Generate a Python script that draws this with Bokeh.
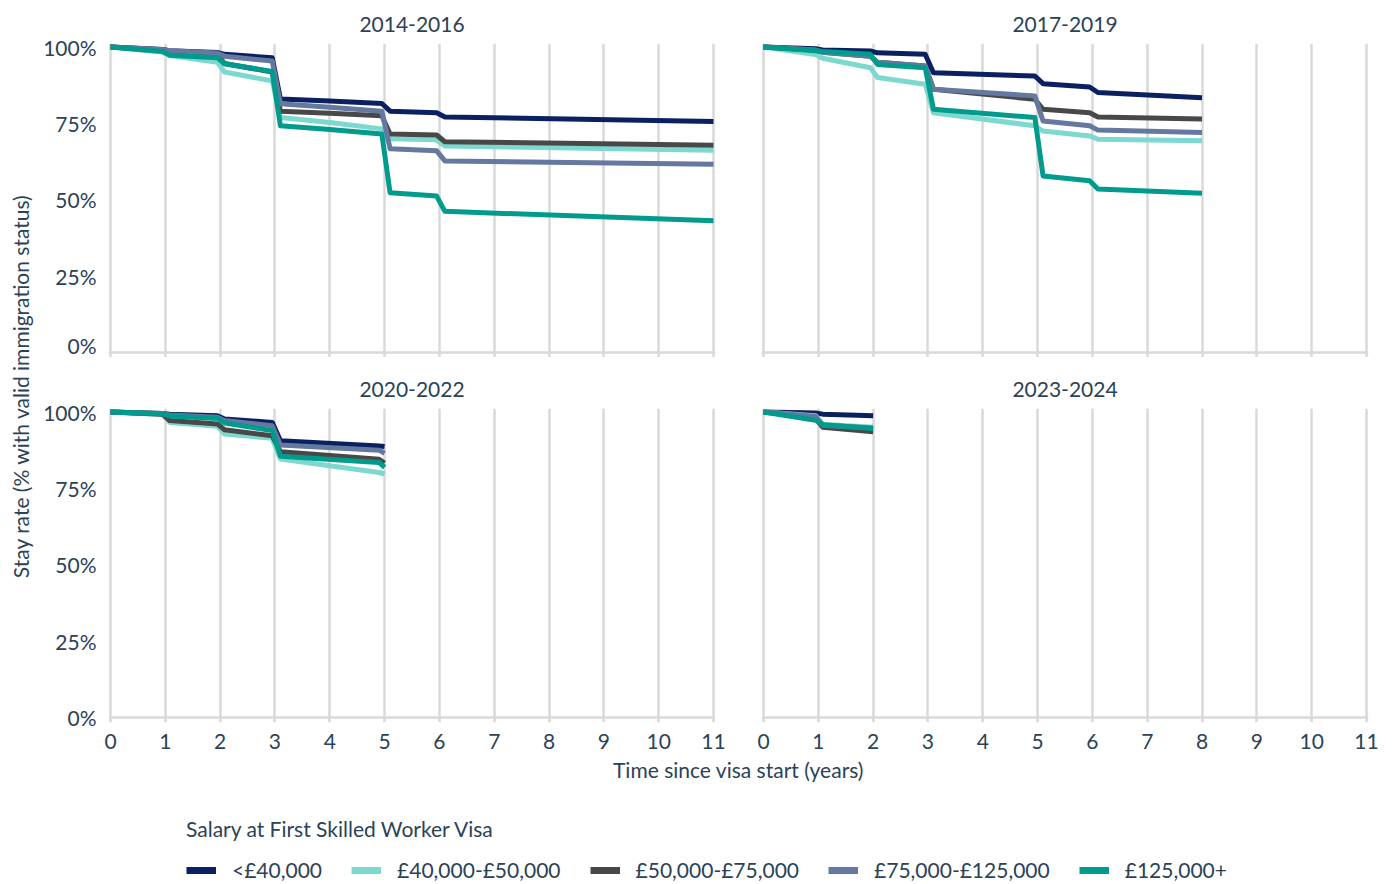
import math
from bokeh.plotting import figure
from bokeh.models import Range1d, FixedTicker, PrintfTickFormatter, Legend, LegendItem, Label
from bokeh.layouts import row, column
from bokeh.embed import file_html
from bokeh.resources import INLINE

# ---------------- data ----------------
series_names = ["<£40,000", "£40,000-£50,000", "£50,000-£75,000", "£75,000-£125,000", "£125,000+"]
series_colors = ["#0A2060", "#7DD8CF", "#484848", "#65789F", "#009B8C"]
panel_titles = ["2014-2016", "2017-2019", "2020-2022", "2023-2024"]
x_ticks = [0, 1, 2, 3, 4, 5, 6, 7, 8, 9, 10, 11]
y_ticks = [0, 25, 50, 75, 100]
legend_title = "Salary at First Skilled Worker Visa"
x_title = "Time since visa start (years)"
y_title = "Stay rate (% with valid immigration status)"

# time since visa start (years) for each cohort
t_2014_2016 = [0, 0.95, 1.08, 1.95, 2.08, 2.95, 3.1, 4.0, 4.95, 5.1, 5.95, 6.1, 11]
t_2017_2019 = [0, 0.95, 1.08, 1.95, 2.08, 2.95, 3.1, 4.95, 5.1, 5.95, 6.1, 8]
t_2020_2022 = [0, 0.95, 1.08, 1.95, 2.08, 2.95, 3.1, 4.9, 5]
t_2023_2024 = [0, 0.95, 1.08, 2]

# stay rate (%) per salary band, ordered as series_names
stay_2014_2016 = [
    [100, 99.2, 98.8, 98.2, 97.6, 96.5, 83.0, 82.3, 81.5, 79.0, 78.5, 77.1, 75.6],
    [100, 98.4, 97.2, 95.0, 91.8, 88.9, 76.9, 75.3, 73.2, 70.0, 69.6, 67.6, 66.2],
    [100, 99.0, 98.5, 97.5, 94.6, 91.8, 79.0, 78.3, 77.5, 71.5, 71.2, 69.0, 67.8],
    [100, 99.2, 98.8, 98.0, 97.0, 95.4, 81.4, 80.3, 79.0, 66.7, 66.0, 62.7, 61.6],
    [100, 98.5, 97.3, 96.5, 94.5, 92.0, 74.2, 73.0, 71.5, 52.3, 51.2, 46.2, 43.1],
]
stay_2017_2019 = [
    [100, 99.4, 99.0, 98.7, 98.1, 97.6, 91.6, 90.5, 88.0, 86.9, 85.1, 83.4],
    [100, 97.5, 96.3, 93.2, 90.0, 87.8, 78.5, 74.2, 72.5, 70.9, 69.8, 69.3],
    [100, 99.0, 98.3, 97.0, 95.0, 93.8, 86.2, 82.9, 79.6, 78.5, 77.1, 76.4],
    [100, 99.0, 98.3, 97.0, 95.0, 93.8, 86.2, 84.0, 75.8, 74.2, 72.8, 72.0],
    [100, 98.8, 98.5, 97.6, 94.3, 93.2, 79.6, 76.9, 57.8, 56.2, 53.5, 52.1],
]
stay_2020_2022 = [
    [100, 99.5, 99.3, 98.8, 97.7, 96.6, 90.6, 88.9, 88.7],
    [100, 99.2, 96.6, 95.3, 92.8, 91.4, 84.6, 80.2, 79.7],
    [100, 99.3, 97.2, 96.1, 94.2, 92.2, 87.0, 84.5, 83.3],
    [100, 99.5, 99.0, 98.3, 97.2, 95.5, 89.2, 87.5, 86.5],
    [100, 99.4, 98.7, 97.9, 96.4, 93.9, 85.5, 83.5, 81.9],
]
stay_2023_2024 = [
    [100, 99.7, 99.3, 98.8],
    [100, 98.8, 96.0, 95.0],
    [100, 98.0, 95.0, 93.5],
    [100, 98.5, 95.7, 94.8],
    [100, 97.3, 95.8, 94.6],
]

# ---------------- style ----------------
FONT = "Lato"
TXT = "#2B4257"
GRID = "#D9D9D9"
FS = "21px"
FRAME_W = 607
FRAME_H = 314
PX_PER_YEAR = 603 / 11.0
PX_PER_PCT = 305.5 / 100.0
x_pad = 2 / PX_PER_YEAR
y_lo = -5 / PX_PER_PCT
y_hi = 100 + (FRAME_H - 5 - 305.5) / PX_PER_PCT


def make_panel(title, times, values, left, right, top, bottom, show_y, show_x):
    p = figure(
        width=left + FRAME_W + right, height=top + FRAME_H + bottom,
        x_range=Range1d(-x_pad, 11 + x_pad), y_range=Range1d(y_lo, y_hi),
        x_axis_location="below" if show_x else None,
        y_axis_location="left" if show_y else None,
        output_backend="svg", toolbar_location=None,
        min_border_left=left, min_border_right=right,
        min_border_top=top, min_border_bottom=bottom,
    )
    p.outline_line_color = None
    p.background_fill_color = "white"
    p.title.text = title
    p.title.align = "center"
    p.title.text_font = FONT
    p.title.text_font_size = FS
    p.title.text_font_style = "normal"
    p.title.text_color = TXT
    p.title.standoff = 23

    p.xgrid.ticker = FixedTicker(ticks=x_ticks)
    p.xgrid.grid_line_color = GRID
    p.xgrid.grid_line_width = 2.5
    p.ygrid.ticker = FixedTicker(ticks=[0])
    p.ygrid.grid_line_color = GRID
    p.ygrid.grid_line_width = 2.5

    if show_x:
        ax = p.xaxis[0]
        ax.ticker = FixedTicker(ticks=x_ticks)
        ax.axis_line_color = None
        ax.major_tick_line_color = None
        ax.minor_tick_line_color = None
        ax.major_tick_out = 0
        ax.major_tick_in = 0
        ax.minor_tick_out = 0
        ax.minor_tick_in = 0
        ax.major_label_standoff = 11
        ax.major_label_text_font = FONT
        ax.major_label_text_font_size = FS
        ax.major_label_text_color = TXT
    if show_y:
        ay = p.yaxis[0]
        ay.ticker = FixedTicker(ticks=y_ticks)
        ay.formatter = PrintfTickFormatter(format="%d%%")
        ay.axis_line_color = None
        ay.major_tick_line_color = None
        ay.minor_tick_line_color = None
        ay.major_tick_out = 0
        ay.major_tick_in = 0
        ay.minor_tick_out = 0
        ay.minor_tick_in = 0
        ay.major_label_standoff = 12
        ay.major_label_text_font = FONT
        ay.major_label_text_font_size = FS
        ay.major_label_text_color = TXT

    for vals, col in zip(values, series_colors):
        p.line(times, vals, line_color=col, line_width=5, line_join="round")
    return p


TOP_H = 43
GAP_TOP = 51
BOT_B = 33
p_tl = make_panel(panel_titles[0], t_2014_2016, stay_2014_2016, 68, 23, TOP_H, 0, True, False)
p_tr = make_panel(panel_titles[1], t_2017_2019, stay_2017_2019, 23, 14, TOP_H, 0, False, False)
p_bl = make_panel(panel_titles[2], t_2020_2022, stay_2020_2022, 68, 23, GAP_TOP, BOT_B, True, True)
p_br = make_panel(panel_titles[3], t_2023_2024, stay_2023_2024, 23, 14, GAP_TOP, BOT_B, False, True)

grid_h = (TOP_H + FRAME_H) + (GAP_TOP + FRAME_H + BOT_B)

# y-axis title column
YT_W = 40
p_yt = figure(width=YT_W, height=grid_h, x_range=Range1d(0, YT_W), y_range=Range1d(0, grid_h),
              x_axis_location=None, y_axis_location=None, output_backend="svg",
              toolbar_location=None, min_border=0)
p_yt.outline_line_color = None
p_yt.xgrid.visible = False
p_yt.ygrid.visible = False
p_yt.add_layout(Label(x=20, y=grid_h - 385.5, text=y_title, angle=math.pi / 2,
                      text_align="center", text_baseline="middle", text_font=FONT,
                      text_font_size=FS, text_color=TXT))

# bottom: x title + legend
LG_W = YT_W + p_tl.width + p_tr.width
LG_H = 884 - grid_h
p_lg = figure(width=LG_W, height=LG_H, x_range=Range1d(0, LG_W), y_range=Range1d(0, LG_H),
              x_axis_location=None, y_axis_location=None, output_backend="svg",
              toolbar_location=None, min_border=0)
p_lg.outline_line_color = None
p_lg.xgrid.visible = False
p_lg.ygrid.visible = False
p_lg.add_layout(Label(x=738, y=LG_H - 14, text=x_title, text_align="center",
                      text_baseline="middle", text_font=FONT, text_font_size=FS,
                      text_color=TXT))
items = []
for name, col in zip(series_names, series_colors):
    r = p_lg.line(x=[-50], y=[-50], line_color=col, line_width=7)
    items.append(LegendItem(label=name, renderers=[r]))
legend = Legend(items=items, orientation="horizontal", location=(186, 2),
                title=legend_title, title_text_font=FONT, title_text_font_size=FS,
                title_text_font_style="normal", title_text_color=TXT, title_standoff=16,
                label_text_font=FONT, label_text_font_size=FS, label_text_color=TXT,
                glyph_width=30, glyph_height=20, label_standoff=16, spacing=29,
                padding=0, margin=0, border_line_color=None, background_fill_alpha=0)
p_lg.add_layout(legend)

layout = column(row(p_yt, column(row(p_tl, p_tr), row(p_bl, p_br))), p_lg)

open("out.html", "w").write(file_html(layout, INLINE))
